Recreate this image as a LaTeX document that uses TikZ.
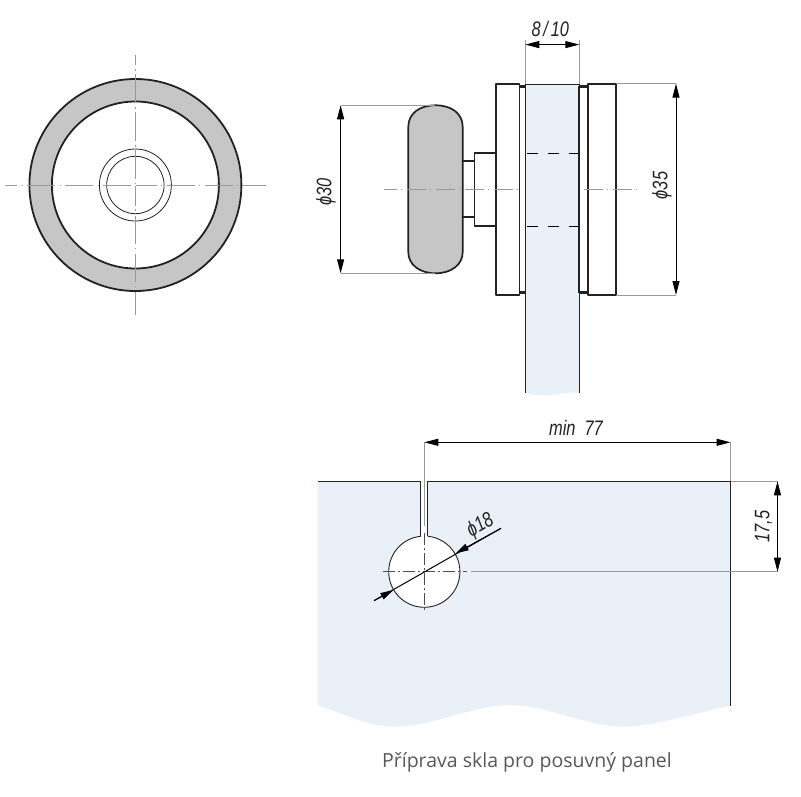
\documentclass[tikz,border=0pt]{standalone}
\usepackage{fontspec}
\setmainfont{Liberation Sans}
\newfontfamily\captionfont{Open Sans}
\usetikzlibrary{arrows.meta}
\definecolor{glass}{HTML}{E9F0F8}
\definecolor{rollergray}{HTML}{C6C6C6}
\definecolor{ink}{HTML}{222222}
\definecolor{extgray}{HTML}{999999}
\newcommand{\dimtxt}[1]{\scalebox{.78}[1]{\itshape #1}}
\tikzset{
  outline/.style={draw=ink,line width=1.7pt,line join=round},
  thinline/.style={draw=ink,line width=1pt},
  extline/.style={draw=extgray,line width=.9pt},
  centerwide/.style={draw=extgray,line width=.9pt,dash pattern=on 28.5pt off 4.5pt on 1.5pt off 3.5pt},
  centerside/.style={draw=extgray,line width=.9pt,dash pattern=on 19pt off 3.5pt on 1.5pt off 5pt},
  centerdark/.style={draw=ink!80,line width=.8pt,dash pattern=on 12pt off 3pt on 2pt off 3pt},
  hiddenline/.style={draw=black,line width=1pt,dash pattern=on 11pt off 10pt},
  dimline/.style={draw=black,line width=1pt,{Stealth[length=14pt,width=7pt,inset=0pt]}-{Stealth[length=14pt,width=7pt,inset=0pt]}},
  dimlabel/.style={inner sep=0pt,font=\fontsize{21}{21}\selectfont,text=ink},
}
\begin{document}
\begin{tikzpicture}[x=1pt,y=-1pt]
\useasboundingbox (0,0) rectangle (801,797);
\fill[white] (0,0) rectangle (801,797);

% ---------- front view
\coordinate (fc) at (135.4,185);
\draw[outline,fill=rollergray,line width=1.8pt] (fc) circle[radius=106pt];
\draw[outline,fill=white,line width=1.8pt] (fc) circle[radius=83.5pt];
\draw[thinline,line width=.8pt] (fc) circle[radius=36pt];
\draw[thinline,line width=.8pt] (fc) circle[radius=28.7pt];
\draw[centerwide,dash phase=16.5pt] (5,185) -- (135.4,185);
\draw[centerwide,dash phase=5pt] (266,185) -- (136,185);
\draw[centerwide,dash phase=18.5pt] (135.4,55) -- (135.4,184);
\draw[centerwide,dash phase=5pt] (135.4,315) -- (135.4,186);

% ---------- side view: glass
\fill[glass] (525.3,84.3) -- (579.3,84.3) -- (579.3,393) .. controls (565,391) and (550,397) .. (535,395) -- (525.3,393) -- cycle;
\draw[thinline] (525.3,393) -- (525.3,84.3) -- (579.3,84.3) -- (579.3,393);
\draw[hiddenline] (527,153.3) -- (579,153.3);
\draw[hiddenline] (527,226) -- (579,226);

% roller
\draw[outline,fill=rollergray] (408.3,127) .. controls (408.3,113) and (420,105.3) .. (435.5,105.3)
  .. controls (451,105.3) and (462.7,113) .. (462.7,127) -- (462.7,252)
  .. controls (462.7,265) and (451,273.3) .. (435.5,273.3)
  .. controls (420,273.3) and (408.3,265) .. (408.3,252) -- cycle;
% stem, collar, flanges
\draw[outline] (462.7,161.3) -- (474.5,161.3) (462.7,217.3) -- (474.5,217.3);
\draw[outline] (496.3,153.3) -- (474.5,153.3) -- (474.5,226) -- (496.3,226);
\draw[outline] (496.3,83.7) rectangle (519.5,295);
\draw[outline] (588,83.7) rectangle (616,295);
% spacers
\draw[outline,line width=2.4pt] (518.5,86.6) -- (525.3,86.6) (518.5,292.4) -- (525.3,292.4);
\draw[outline,line width=2.4pt] (579.3,86.6) -- (588,86.6) (579.3,292.4) -- (588,292.4);
\draw[outline,line width=1.9pt] (579.3,86.3) -- (579.3,292.7);

% centre line of side view
\draw[centerside,dash phase=6pt] (384,189.3) -- (520,189.3);
\draw[centerside] (584,189.3) -- (638,189.3);

% dimension 8/10
\coordinate (glassL) at (525.3,40);
\coordinate (glassR) at (579.3,40);
\coordinate (dimL) at (525.3,44.6);
\coordinate (dimR) at (579.3,44.6);
\draw[extline] (glassL) -- (525.3,84);
\draw[extline] (glassR) -- (579.3,84);
\draw[dimline] (dimL) -- (dimR);
\node[dimlabel] (l810) at (550.3,28.8) {\dimtxt{8\,/\,10}};

% dimension phi30
\coordinate (d30a) at (340.6,105.3);
\coordinate (d30b) at (340.6,273.3);
\draw[extline] (d30a) -- (435,105.3);
\draw[extline] (d30b) -- (435,273.3);
\draw[dimline] (d30a) -- (d30b);
\node[dimlabel,rotate=90] (l30) at (326,192) {\dimtxt{ϕ30}};

% dimension phi35
\coordinate (d35a) at (676,83.7);
\coordinate (d35b) at (676,295);
\draw[extline] (d35a) -- (616,83.7);
\draw[extline] (d35b) -- (616,295);
\draw[dimline] (d35a) -- (d35b);
\node[dimlabel,rotate=90] (l35) at (662,185.5) {\dimtxt{ϕ35}};

% ---------- glass preparation
\fill[glass] (317.5,481.3) -- (730.5,481.3) -- (730.5,705.5)
  .. controls (690,715) and (650,727) .. (621.7,726.7)
  .. controls (590,726.7) and (545,705) .. (510,705)
  .. controls (475,705) and (430,726.7) .. (396.7,726.7)
  .. controls (370,726.7) and (345,715) .. (317.5,705) -- cycle;
\coordinate (hc) at (424.3,571.7);
\draw[thinline,fill=white,line width=.9pt] (hc) circle[radius=35.6pt];
\fill[white] (420.7,481) rectangle (427.7,538);
\draw[thinline] (317.5,481.3) -- (420.7,481.3) -- (420.7,536.2);
\draw[thinline] (427.7,536.2) -- (427.7,481.3) -- (730.5,481.3) -- (730.5,705.5);

% centre lines of hole
\draw[extline] (424.3,442.3) -- (424.3,526);
\draw[centerdark] (424.3,533) -- (424.3,612);
\draw[centerdark] (383,571.7) -- (467,571.7);
\draw[extline] (471,571.7) -- (777.5,571.7);

% dimension min 77
\coordinate (d77a) at (424.3,442.3);
\coordinate (d77b) at (730.5,442.3);
\draw[extline] (d77b) -- (730.5,481);
\draw[dimline] (d77a) -- (d77b);
\node[dimlabel] (l77) at (576,428) {\dimtxt{min\hspace{.55em}77}};

% dimension 17,5
\coordinate (d17a) at (777.5,481.3);
\coordinate (d17b) at (777.5,571.7);
\draw[extline] (730.5,481.3) -- (d17a);
\draw[dimline] (d17a) -- (d17b);
\node[dimlabel,rotate=90] (l17) at (763.5,526.5) {\dimtxt{17,5}};

% dimension phi18
\coordinate (d18a) at (374,600.7);
\coordinate (d18b) at (501,528.3);
\coordinate (d18tipa) at (393.3,590);
\coordinate (d18tipb) at (455.7,553.3);
\draw[draw=black,line width=1pt] (d18a) -- (d18b);
\draw[draw=black,line width=1pt,-{Stealth[length=13pt,width=7pt,inset=0pt]}] (d18a) -- (d18tipa);
\draw[draw=black,line width=1pt,-{Stealth[length=13pt,width=7pt,inset=0pt]}] (d18b) -- (d18tipb);
\node[dimlabel,rotate=30] (l18) at (480.5,526) {\dimtxt{ϕ18}};

% caption
\node[inner sep=0pt,text=black!65,font=\captionfont\fontsize{19.5}{20}\selectfont] (cap) at (527,762) {Příprava skla pro posuvný panel};
\end{tikzpicture}
\end{document}
